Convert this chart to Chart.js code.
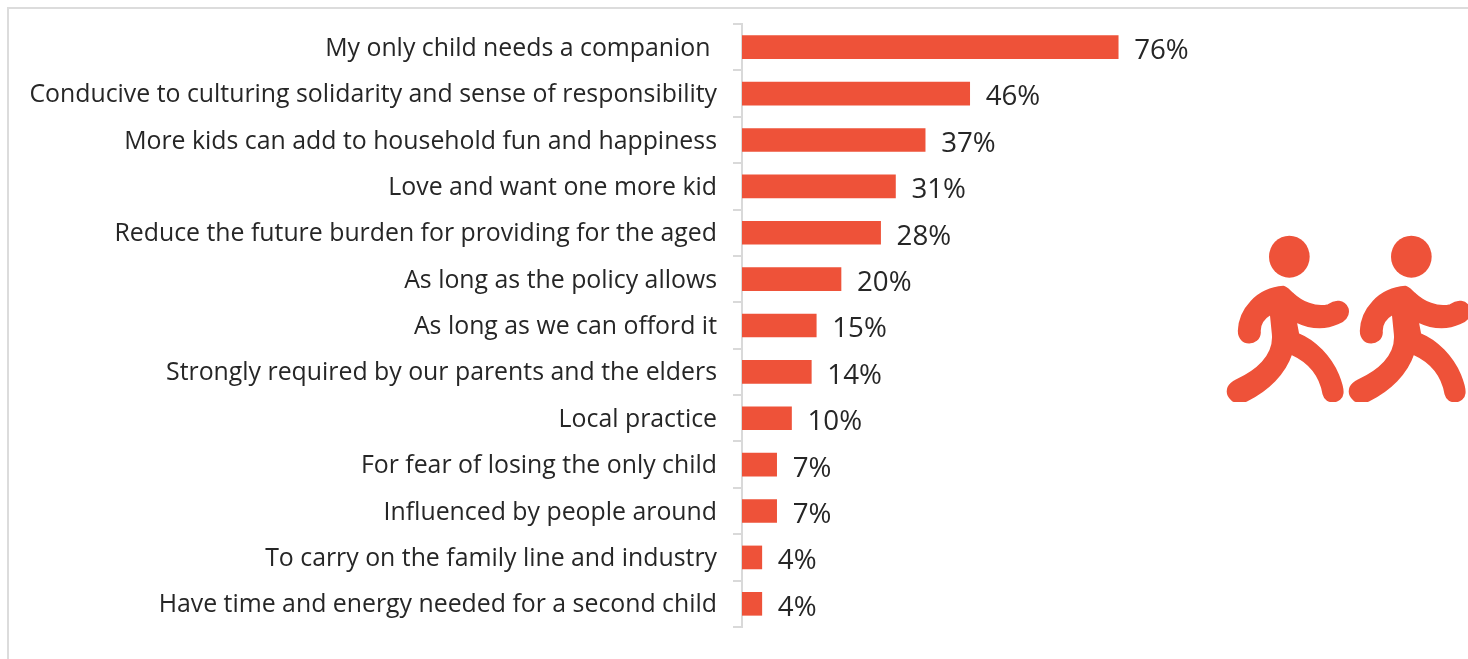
<!DOCTYPE html>
<html>
<head>
<meta charset="utf-8">
<style>
  html, body { margin: 0; padding: 0; background: #fff; }
  #wrap { position: relative; width: 1468px; height: 659px; overflow: hidden; }
  #frame { position: absolute; left: 7px; top: 7px; width: 1480px; height: 680px; box-sizing: border-box; border: 2px solid #dcdcdc; }
  canvas { position: absolute; left: 0; top: 0; }
</style>
<script src="https://cdn.jsdelivr.net/npm/chart.js@4"></script>
</head>
<body>
<div id="wrap">
  <div id="frame"></div>
  <canvas id="chart" width="1468" height="659"></canvas>
</div>
<script>
const categories = [
  "My only child needs a companion ",
  "Conducive to culturing solidarity and sense of responsibility",
  "More kids can add to household fun and happiness",
  "Love and want one more kid",
  "Reduce the future burden for providing for the aged",
  "As long as the policy allows",
  "As long as we can offord it",
  "Strongly required by our parents and the elders",
  "Local practice",
  "For fear of losing the only child",
  "Influenced by people around",
  "To carry on the family line and industry",
  "Have time and energy needed for a second child"
];
const shares = [76, 46, 37, 31, 28, 20, 15, 14, 10, 7, 7, 4, 4];

const ACCENT = "#ee5239";
const INK = "#262626";
const FONT = '"Open Sans", sans-serif';

// Writes each percentage just past the end of its bar.
const valueLabels = {
  id: "valueLabels",
  afterDatasetsDraw(chart) {
    const { ctx } = chart;
    ctx.save();
    ctx.font = "27.7px " + FONT;
    ctx.fillStyle = INK;
    ctx.textAlign = "left";
    ctx.textBaseline = "middle";
    chart.getDatasetMeta(0).data.forEach((bar, i) => {
      ctx.fillText(shares[i] + "%", bar.x + 16, bar.y + 4);
    });
    ctx.restore();
  }
};

// Outline of one running figure's body, on a 3x grid so it stays crisp.
const FIGURE_BODY =
  "M250 230 C262 232 270 245 280 252 C305 275 345 295 385 285 " +
  "C405 270 432 270 443 295 C450 320 430 335 415 340 " +
  "C375 358 330 355 288 335 L295 372 C345 392 392 440 415 495 " +
  "C425 520 430 535 428 550 C425 580 378 585 370 552 " +
  "C360 495 325 455 274 432 C255 490 205 540 140 572 " +
  "C105 590 75 560 85 532 C90 520 100 515 110 510 " +
  "C165 485 225 440 218 372 L212 312 C190 325 178 345 180 368 " +
  "C178 408 115 410 116 362 C118 300 170 235 250 230 Z";

// Pair of running figures beside the bars.
const runners = {
  id: "runners",
  afterDraw(chart) {
    const { ctx } = chart;
    ctx.save();
    ctx.beginPath();
    ctx.rect(1200, 210, 268, 192);
    ctx.clip();
    ctx.fillStyle = ACCENT;
    ctx.strokeStyle = ACCENT;
    ctx.lineJoin = "round";
    [0, 122].forEach(dx => {
      ctx.save();
      ctx.translate(1200 + dx, 210);
      ctx.scale(1 / 3, 1 / 3);
      ctx.beginPath();
      ctx.ellipse(268, 140, 61, 63, 0, 0, Math.PI * 2);
      ctx.fill();
      const body = new Path2D(FIGURE_BODY);
      ctx.lineWidth = 5;
      ctx.fill(body);
      ctx.stroke(body);
      ctx.restore();
    });
    ctx.restore();
  }
};

new Chart(document.getElementById("chart"), {
  type: "bar",
  data: {
    labels: categories,
    datasets: [{
      data: shares,
      backgroundColor: ACCENT,
      borderWidth: 0,
      barThickness: 23
    }]
  },
  options: {
    indexAxis: "y",
    responsive: false,
    animation: false,
    layout: { padding: { top: 24, bottom: 32, left: 0, right: 231 } },
    plugins: { legend: { display: false }, tooltip: { enabled: false } },
    scales: {
      x: { display: false, min: 0, max: 100 },
      y: {
        afterFit(scale) {
          scale.width = 742;
          scale.paddingTop = 0;
          scale.paddingBottom = 0;
        },
        border: { color: "#d9d9d9", width: 2 },
        grid: { drawOnChartArea: false, tickColor: "#d9d9d9", tickLength: 9, lineWidth: 2 },
        ticks: { color: INK, font: { family: FONT, size: 24.85 }, padding: 16, autoSkip: false, labelOffset: 1.5 }
      }
    }
  },
  plugins: [valueLabels, runners]
});
</script>
</body>
</html>
